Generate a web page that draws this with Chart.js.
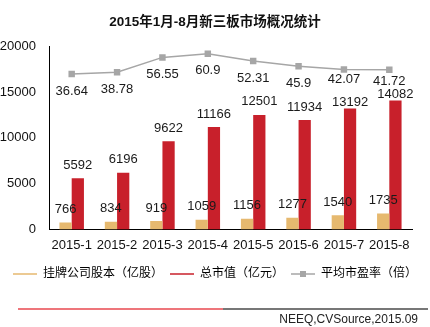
<!DOCTYPE html>
<html>
<head>
<meta charset="utf-8">
<script src="https://cdn.jsdelivr.net/npm/chart.js@4"></script>
<style>
  html, body { margin: 0; padding: 0; background: #fff; }
  #wrap { width: 430px; height: 327px; position: relative; }
</style>
</head>
<body>
<div id="wrap"><canvas id="myChart" width="430" height="327"></canvas></div>
<script>
const months = ["2015-1", "2015-2", "2015-3", "2015-4", "2015-5", "2015-6", "2015-7", "2015-8"];
const shareCapital = [766, 834, 919, 1059, 1156, 1277, 1540, 1735];
const marketValue = [5592, 6196, 9622, 11166, 12501, 11934, 13192, 14082];
const peRatio = [36.64, 38.78, 56.55, 60.9, 52.31, 45.9, 42.07, 41.72];
const yTicks = [0, 5000, 10000, 15000, 20000];

const FONT = "'Liberation Sans', Arial, 'Noto Sans CJK SC', sans-serif";

// small legend icons: line, or line with a square marker
function legendIcon(color, marker) {
  const c = document.createElement("canvas");
  c.width = 24;
  c.height = 10;
  const g = c.getContext("2d");
  g.strokeStyle = color;
  g.lineWidth = 1.5;
  g.beginPath();
  g.moveTo(0, 5);
  g.lineTo(24, 5);
  g.stroke();
  if (marker) {
    g.fillStyle = color;
    g.fillRect(9, 2, 6, 6);
  }
  return c;
}

// data labels; the last two months are nudged like in the original to avoid overlap
const valueLabels = {
  id: "valueLabels",
  afterDatasetsDraw(chart, args, opts) {
    const ctx = chart.ctx;
    ctx.save();
    ctx.font = "13px " + FONT;
    ctx.fillStyle = "#1a1a1a";
    ctx.textAlign = "center";
    ctx.textBaseline = "middle";
    chart.data.datasets.forEach((ds, i) => {
      const meta = chart.getDatasetMeta(i);
      meta.data.forEach((el, j) => {
        if (ds.type === "line") {
          ctx.fillText(ds.data[j], el.x, el.y + (opts.lineGap[j] ?? 17));
        } else {
          const gap = i === 1 ? (opts.barGap[j] ?? 13) : 13;
          ctx.fillText(ds.data[j], el.x, el.y - gap);
        }
      });
    });
    ctx.restore();
  }
};

const footer = {
  id: "footer",
  afterDraw(chart) {
    const ctx = chart.ctx;
    ctx.save();
    ctx.lineWidth = 1.5;
    ctx.strokeStyle = "#e8474f";
    ctx.beginPath();
    ctx.moveTo(18, 309);
    ctx.lineTo(223, 309);
    ctx.stroke();
    ctx.strokeStyle = "#4a4a4a";
    ctx.beginPath();
    ctx.moveTo(223, 309);
    ctx.lineTo(428, 309);
    ctx.stroke();
    ctx.font = "12px " + FONT;
    ctx.fillStyle = "#222";
    ctx.textAlign = "right";
    ctx.textBaseline = "middle";
    ctx.fillText("NEEQ,CVSource,2015.09", 418, 320);
    ctx.restore();
  }
};

function loadChart() {
  const ctx = document.getElementById("myChart");
  new Chart(ctx, {
    type: "bar",
    data: {
      labels: months,
      datasets: [
        {
          label: "挂牌公司股本（亿股）",
          data: shareCapital,
          backgroundColor: "#e6b96f",
          yAxisID: "y",
          order: 2,
        },
        {
          label: "总市值（亿元）",
          data: marketValue,
          backgroundColor: "#c8202b",
          yAxisID: "y",
          order: 2,
        },
        {
          type: "line",
          label: "平均市盈率（倍）",
          data: peRatio,
          borderColor: "#a6a6a6",
          backgroundColor: "#a6a6a6",
          borderWidth: 1.5,
          pointStyle: "rect",
          pointRadius: 3.5,
          pointHoverRadius: 3.5,
          yAxisID: "y1",
          order: 1,
        },
      ],
    },
    options: {
      responsive: false,
      animation: false,
      events: [],
      layout: { padding: { left: 0, right: 0, top: 0, bottom: 37 } },
      datasets: {
        bar: { barPercentage: 1, categoryPercentage: 0.54 },
      },
      plugins: {
        tooltip: { enabled: false },
        valueLabels: {
          lineGap: [17, 17, 17, 17, 17, 17, 10, 12],
          barGap: [13, 13, 13, 13, 13, 13, 6, 6],
        },
        title: {
          display: true,
          text: "2015年1月-8月新三板市场概况统计",
          color: "#111",
          font: { family: FONT, size: 13.5, weight: "bold" },
          padding: { top: 14, bottom: 16 },
        },
        legend: {
          position: "bottom",
          labels: {
            usePointStyle: true,
            pointStyleWidth: 24,
            color: "#111",
            font: { family: FONT, size: 12 },
            padding: 7,
            generateLabels(chart) {
              const cols = ["#e6b96f", "#c8202b", "#a6a6a6"];
              return chart.data.datasets.map((ds, i) => ({
                text: ds.label,
                pointStyle: legendIcon(cols[i], ds.type === "line"),
                fillStyle: cols[i],
                strokeStyle: cols[i],
                lineWidth: 0,
                hidden: false,
                datasetIndex: i,
              }));
            },
          },
        },
      },
      scales: {
        x: {
          grid: { display: false, drawTicks: false },
          border: { display: true, color: "#000", width: 1 },
          ticks: { color: "#111", font: { family: FONT, size: 13 }, padding: 8, maxRotation: 0 },
        },
        y: {
          min: 0,
          max: 20000,
          afterBuildTicks(scale) {
            scale.ticks = yTicks.map((v) => ({ value: v }));
          },
          afterFit(scale) {
            scale.width = 49;
          },
          grid: { display: false, drawTicks: false },
          border: { display: true, color: "#000", width: 1 },
          ticks: {
            color: "#111",
            font: { family: FONT, size: 13 },
            padding: 13,
            callback: (v) => String(v),
          },
        },
        y1: {
          position: "right",
          min: -150,
          max: 70,
          afterFit(scale) {
            scale.width = 18;
          },
          grid: { display: false, drawTicks: false },
          border: { display: false },
          ticks: { display: false },
        },
      },
    },
    plugins: [valueLabels, footer],
  });
}

loadChart();
</script>
</body>
</html>
